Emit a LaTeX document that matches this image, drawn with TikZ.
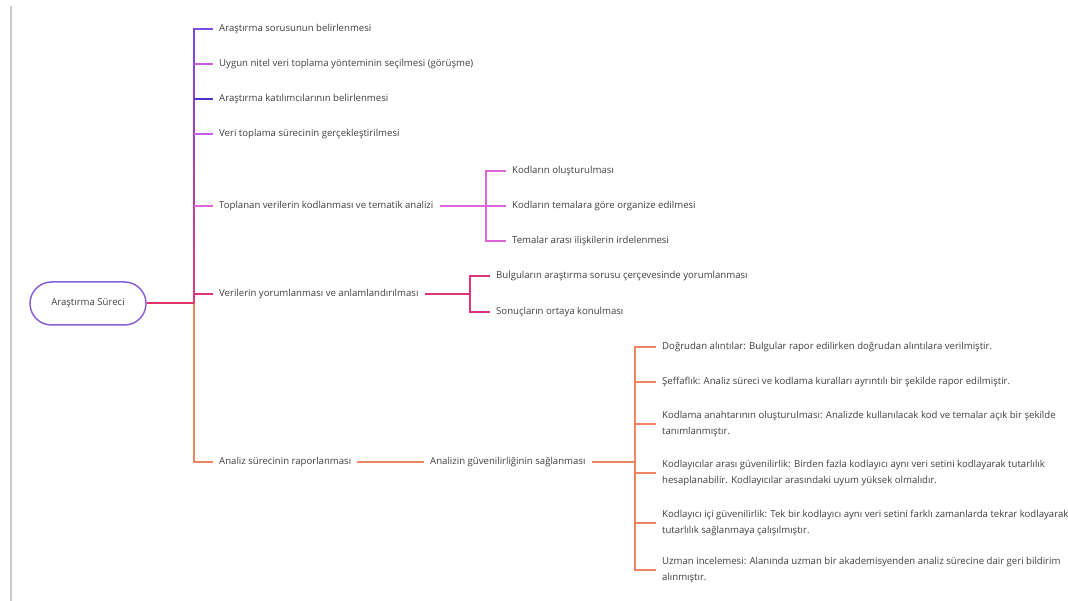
\documentclass[tikz,border=0pt]{standalone}
\usepackage{fontspec}
\setmainfont{Open Sans}
\definecolor{txt}{HTML}{404040}
\definecolor{leftgray}{HTML}{C8C8C8}
\definecolor{rootborder}{HTML}{8A60D8}
\definecolor{rootline}{HTML}{E03565}
\definecolor{cA}{HTML}{7B4EE6}
\definecolor{cB}{HTML}{CC5CE6}
\definecolor{cC}{HTML}{4B32C8}
\definecolor{cD}{HTML}{C25EE8}
\definecolor{cE}{HTML}{E066D8}
\definecolor{cF}{HTML}{E0337F}
\definecolor{cG}{HTML}{F08462}
\definecolor{trTop}{HTML}{7545E0}
\definecolor{trMid}{HTML}{B048E0}
\definecolor{trBot}{HTML}{E03A7A}
\begin{document}
\begin{tikzpicture}[x=1pt,y=-1pt,
  every node/.style={font=\fontsize{9.6}{16}\selectfont, text=txt},
  lbl/.style={anchor=mid west, inner xsep=6pt, inner ysep=1pt},
  mlbl/.style={anchor=west, inner xsep=6pt, inner ysep=1pt, align=left},
  rootbox/.style={draw=rootborder, line width=1.5pt, rounded corners=21.5pt,
    minimum width=116pt, minimum height=43pt, fill=white},
  br/.style={line width=1.3pt},
  thick/.style={line width=2pt}]
\useasboundingbox (0,0) rectangle (1068,601);
\fill[white] (0,0) rectangle (1068,601);
% left gray rule
\draw[leftgray, line width=2pt] (11,6) -- (11,601);

% root
\node[rootbox] (root) at (88,303.5) {Araştırma Süreci};

% level 1 nodes
\node[lbl] (a1) at (213,29) {Araştırma sorusunun belirlenmesi};
\node[lbl] (a2) at (213,64) {Uygun nitel veri toplama yönteminin seçilmesi (görüşme)};
\node[lbl] (a3) at (213,99) {Araştırma katılımcılarının belirlenmesi};
\node[lbl] (a4) at (213,134) {Veri toplama sürecinin gerçekleştirilmesi};
\node[lbl] (a5) at (213,206) {Toplanan verilerin kodlanması ve tematik analizi};
\node[lbl] (a6) at (213,294) {Verilerin yorumlanması ve anlamlandırılması};
\node[lbl] (a7) at (213,462) {Analiz sürecinin raporlanması};

% junctions
\coordinate (T) at (194,303.5);
\coordinate (S5) at (486,206);
\coordinate (S6) at (470,294);
\coordinate (S7) at (635,462);

% trunk
\shade[top color=trTop, middle color=trMid, bottom color=trBot]
  (193.2,28.3) rectangle (194.8,303.5);
\draw[cG, line width=1.6pt] (T) -- (T |- a7.mid west) -- (a7.mid west);
\draw[rootline, thick] (root.east) -- (T);

% level 1 branches
\draw[cA, br] (T |- a1.mid west) -- (a1.mid west);
\draw[cB, br] (T |- a2.mid west) -- (a2.mid west);
\draw[cC, br] (T |- a3.mid west) -- (a3.mid west);
\draw[cD, br] (T |- a4.mid west) -- (a4.mid west);
\draw[cE, br] (T |- a5.mid west) -- (a5.mid west);
\draw[cF, br] (T |- a6.mid west) -- (a6.mid west);

% children of a5
\node[lbl] (b1) at (506,171) {Kodların oluşturulması};
\node[lbl] (b2) at (506,206) {Kodların temalara göre organize edilmesi};
\node[lbl] (b3) at (506,241) {Temalar arası ilişkilerin irdelenmesi};
\draw[cE, thick] (a5.mid east) -- (S5);
\draw[cE, br] (b1.mid west) -- (S5 |- b1.mid west) -- (S5 |- b3.mid west) -- (b3.mid west);
\draw[cE, br] (S5 |- b2.mid west) -- (b2.mid west);

% children of a6
\node[lbl] (d1) at (490,276) {Bulguların araştırma sorusu çerçevesinde yorumlanması};
\node[lbl] (d2) at (490,312) {Sonuçların ortaya konulması};
\draw[cF, thick] (a6.mid east) -- (S6);
\draw[cF, br] (d1.mid west) -- (S6 |- d1.mid west) -- (S6 |- d2.mid west) -- (d2.mid west);

% a7 chain
\node[lbl] (g) at (424,462) {Analizin güvenilirliğinin sağlanması};
\draw[cG, br] (a7.mid east) -- (g.mid west);
\draw[cG, thick] (g.mid east) -- (S7);

% children of g
\node[lbl] (c1) at (656,347) {Doğrudan alıntılar: Bulgular rapor edilirken doğrudan alıntılara verilmiştir.};
\node[lbl] (c2) at (656,382) {Şeffaflık: Analiz süreci ve kodlama kuralları ayrıntılı bir şekilde rapor edilmiştir.};
\node[mlbl] (c3) at (656,424) {Kodlama anahtarının oluşturulması: Analizde kullanılacak kod ve temalar açık bir şekilde\\tanımlanmıştır.};
\node[mlbl] (c4) at (656,473) {Kodlayıcılar arası güvenilirlik: Birden fazla kodlayıcı aynı veri setini kodlayarak tutarlılık\\hesaplanabilir. Kodlayıcılar arasındaki uyum yüksek olmalıdır.};
\node[mlbl] (c5) at (656,523) {Kodlayıcı içi güvenilirlik: Tek bir kodlayıcı aynı veri setini farklı zamanlarda tekrar kodlayarak\\tutarlılık sağlanmaya çalışılmıştır.};
\node[mlbl] (c6) at (656,570) {Uzman incelemesi: Alanında uzman bir akademisyenden analiz sürecine dair geri bildirim\\alınmıştır.};
\draw[cG, br] (c1.mid west) -- (S7 |- c1.mid west) -- (S7 |- c6.west) -- (c6.west);
\draw[cG, br] (S7 |- c2.mid west) -- (c2.mid west);
\draw[cG, br] (S7 |- c3.west) -- (c3.west);
\draw[cG, br] (S7 |- c4.west) -- (c4.west);
\draw[cG, br] (S7 |- c5.west) -- (c5.west);
\end{tikzpicture}
\end{document}
